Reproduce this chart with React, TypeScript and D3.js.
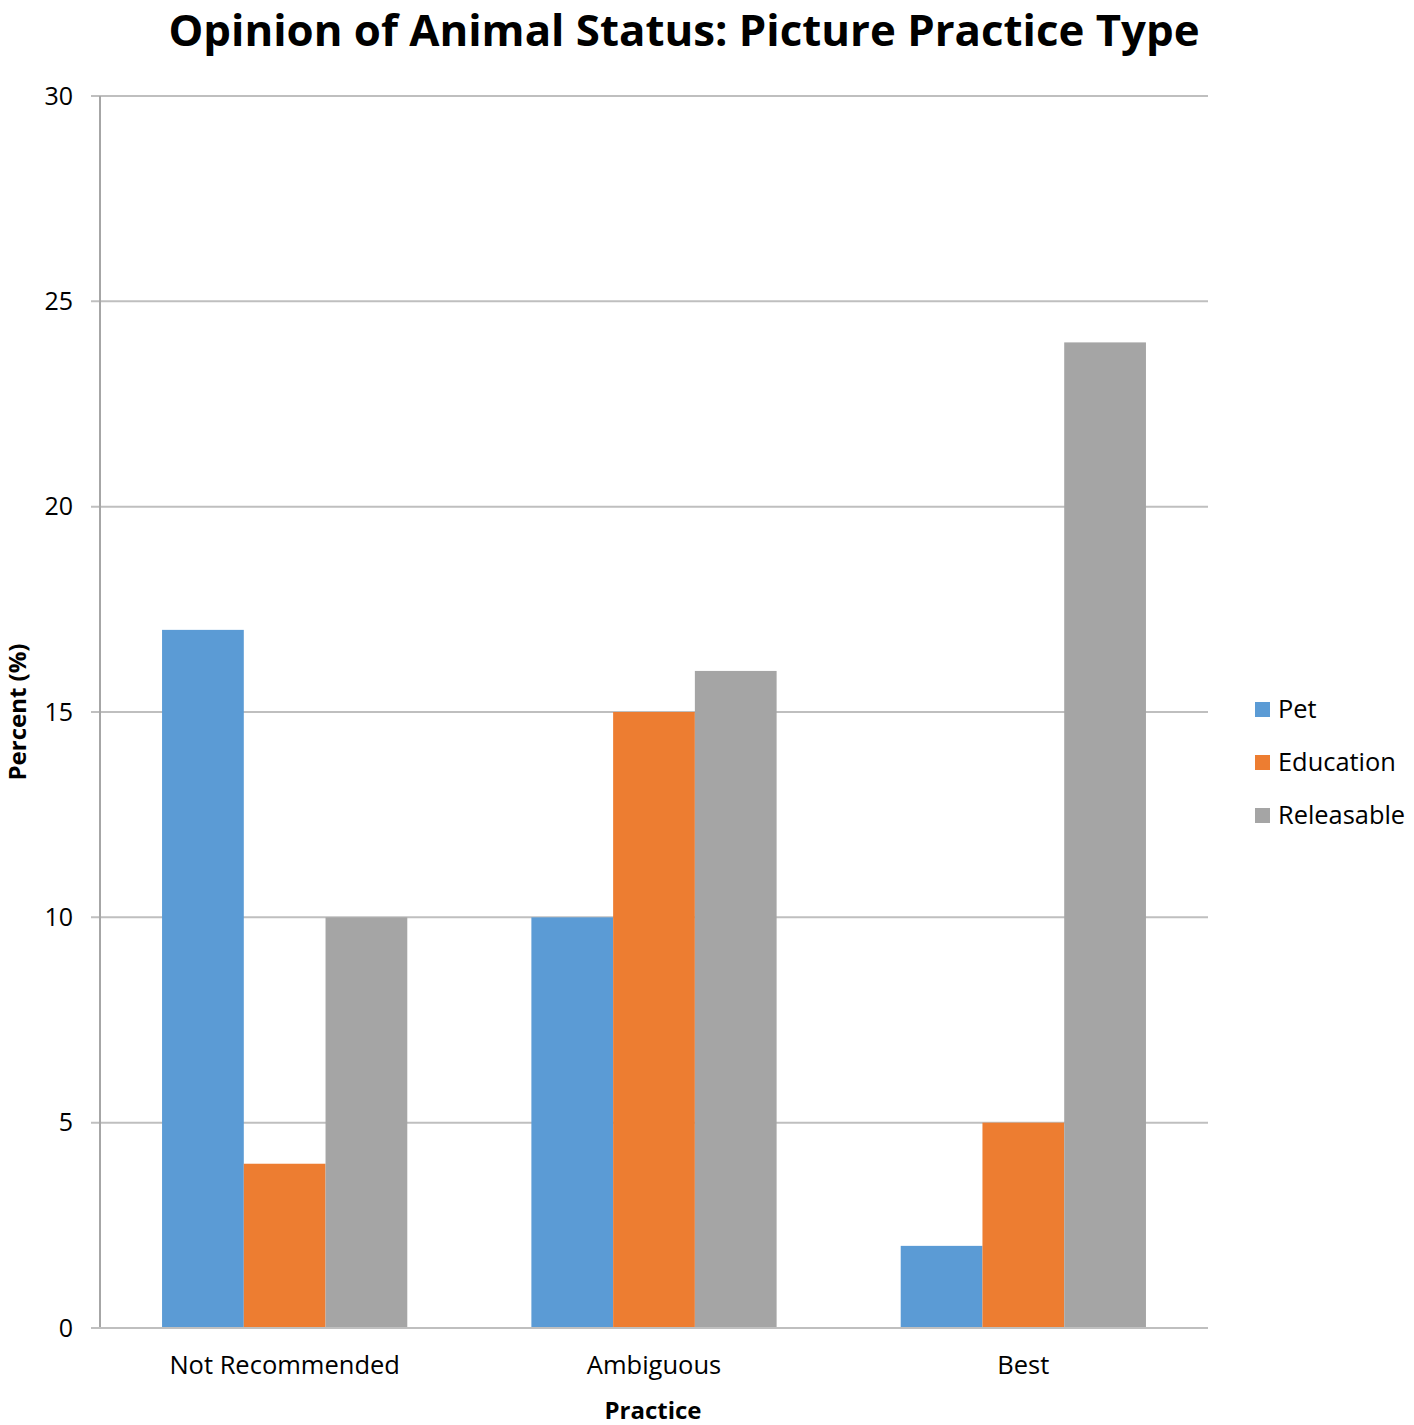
import * as d3 from "d3";
import { useEffect, useRef } from "react";

const categories = ["Not Recommended", "Ambiguous", "Best"];
const seriesNames = ["Pet", "Education", "Releasable"];
const pet = [17, 10, 2];
const education = [4, 15, 5];
const releasable = [10, 16, 24];
const yTicks = [0, 5, 10, 15, 20, 25, 30];
const colors = ["#5B9BD5", "#ED7D31", "#A5A5A5"];

const width = 1414;
const height = 1425;
const font = "'Open Sans', sans-serif";

function drawChart(svgEl: SVGSVGElement) {
    const svg = d3.select(svgEl);
    svg.selectAll("*").remove();

    const left = 100, right = 1208, top = 96, bottom = 1328;
    const values = [pet, education, releasable];

    const x0 = d3.scaleBand<string>().domain(categories).range([left, right]).padding(0);
    const x1 = d3.scaleBand<string>()
        .domain(seriesNames)
        .range([0, x0.bandwidth() * 0.664]);
    const y = d3.scaleLinear().domain([0, 30]).range([bottom, top]);

    // gridlines
    svg.append("g")
        .selectAll("line")
        .data(yTicks)
        .enter()
        .append("line")
        .attr("x1", left - 9)
        .attr("x2", right)
        .attr("y1", d => y(d))
        .attr("y2", d => y(d))
        .attr("stroke", "#bfbfbf")
        .attr("stroke-width", 2);

    // y axis line
    svg.append("line")
        .attr("x1", left).attr("x2", left)
        .attr("y1", top).attr("y2", bottom)
        .attr("stroke", "#a6a6a6")
        .attr("stroke-width", 2);

    // y tick labels
    svg.append("g")
        .selectAll("text")
        .data(yTicks)
        .enter()
        .append("text")
        .attr("x", 73)
        .attr("y", d => y(d))
        .attr("dy", "0.35em")
        .attr("text-anchor", "end")
        .style("font-family", font)
        .style("font-size", "25px")
        .style("fill", "#000")
        .text(d => d);

    // bars
    const groups = svg.append("g")
        .selectAll("g")
        .data(categories)
        .enter()
        .append("g")
        .attr("transform", d => `translate(${(x0(d) as number) + x0.bandwidth() * 0.168},0)`);

    groups.selectAll("rect")
        .data((_, ci) => seriesNames.map((s, si) => ({ s, si, v: values[si][ci] })))
        .enter()
        .append("rect")
        .attr("x", d => x1(d.s) as number)
        .attr("width", x1.bandwidth())
        .attr("y", d => y(d.v))
        .attr("height", d => y(0) - y(d.v))
        .attr("fill", d => colors[d.si]);

    // baseline over bars
    svg.append("line")
        .attr("x1", left - 9).attr("x2", right)
        .attr("y1", y(0)).attr("y2", y(0))
        .attr("stroke", "#bfbfbf")
        .attr("stroke-width", 2);

    // x labels
    svg.append("g")
        .selectAll("text")
        .data(categories)
        .enter()
        .append("text")
        .attr("x", d => (x0(d) as number) + x0.bandwidth() / 2)
        .attr("y", 1374)
        .attr("text-anchor", "middle")
        .style("font-family", font)
        .style("font-size", "25.5px")
        .style("fill", "#000")
        .text(d => d);

    // title
    svg.append("text")
        .attr("x", 684)
        .attr("y", 46)
        .attr("text-anchor", "middle")
        .style("font-family", font)
        .style("font-size", "43.8px")
        .style("font-weight", "bold")
        .style("fill", "#000")
        .text("Opinion of Animal Status: Picture Practice Type");

    // axis titles
    svg.append("text")
        .attr("x", 653)
        .attr("y", 1419)
        .attr("text-anchor", "middle")
        .style("font-family", font)
        .style("font-size", "24px")
        .style("font-weight", "bold")
        .text("Practice");

    svg.append("text")
        .attr("transform", "translate(26,712) rotate(-90)")
        .attr("text-anchor", "middle")
        .style("font-family", font)
        .style("font-size", "24px")
        .style("font-weight", "bold")
        .text("Percent (%)");

    // legend
    const legend = svg.append("g")
        .selectAll("g")
        .data(seriesNames)
        .enter()
        .append("g")
        .attr("transform", (_, i) => `translate(1255,${709 + i * 53})`);

    legend.append("rect")
        .attr("x", 0).attr("y", -7)
        .attr("width", 15).attr("height", 15)
        .attr("fill", (_, i) => colors[i]);

    legend.append("text")
        .attr("x", 23)
        .attr("y", 0)
        .attr("dy", "0.35em")
        .style("font-family", font)
        .style("font-size", "25.4px")
        .text(d => d);
}

export default function App() {
    const svgRef = useRef<SVGSVGElement>(null);
    useEffect(() => {
        if (svgRef.current) drawChart(svgRef.current);
    }, []);
    return (
        <div style={{ position: "absolute", left: 0, top: 0 }}>
            <svg ref={svgRef} width={width} height={height} style={{ display: "block", background: "#fff" }} />
        </div>
    );
}
